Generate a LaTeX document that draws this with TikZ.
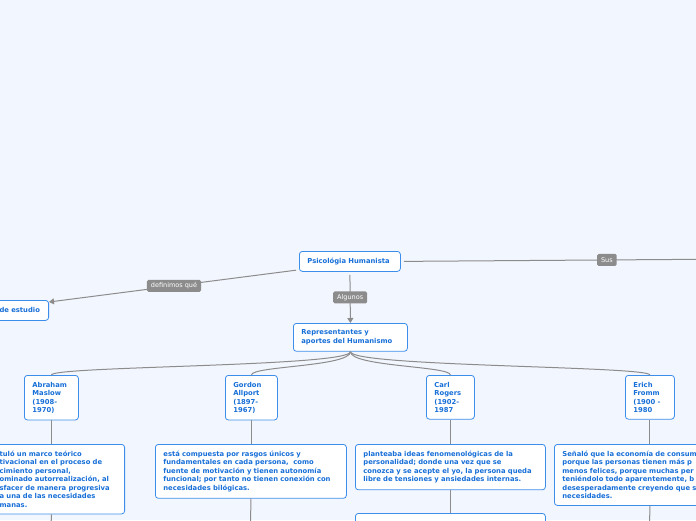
\documentclass[tikz,border=0pt]{standalone}
\usepackage{fontspec}
\setmainfont{DejaVu Sans}
\usetikzlibrary{arrows.meta}
\definecolor{fondo}{HTML}{F2F6FE}
\definecolor{azulborde}{HTML}{3D8EEA}
\definecolor{azultexto}{HTML}{176FD8}
\definecolor{gris}{HTML}{8C8C8C}

\begin{document}
\begin{tikzpicture}[x=1pt, y=-1pt,
    caja/.style={draw=azulborde, fill=white, line width=0.8pt, rounded corners=3pt, text=azultexto,
        font=\bfseries\fontsize{6.8}{8.5}\selectfont, align=left, inner xsep=8pt, inner ysep=6.5pt, anchor=north west},
    rama/.style={draw=gris, line width=1pt},
    flecha/.style={rama, -{Triangle[length=5pt, width=6pt]}, shorten <=3pt},
    etiqueta/.style={fill=gris, text=white, rounded corners=1.5pt, inner xsep=4pt, inner ysep=0pt,
        minimum height=12pt, font=\fontsize{6.5}{7}\selectfont}]
    \useasboundingbox (0,0) rectangle (696,520);
    \fill[fondo] (0,0) rectangle (696,520);
    \clip (0,0) rectangle (696,520);

    \node[caja, text width=85pt, minimum height=20pt] (psico) at (299,251) {Psicológia Humanista};
    \node[caja, text width=41pt, minimum height=20pt, anchor=north east] (estudio) at (49,300) {de estudio};
    \node[caja, text width=98pt] (repre) at (293,323) {Representantes y\\aportes del Humanismo};

    \node[caja, text width=38pt] (maslow) at (24,375) {Abraham\\Maslow\\(1908-\\1970)};
    \node[caja, text width=36pt] (allport) at (225,375) {Gordon\\Allport\\(1897-\\1967)};
    \node[caja, text width=32pt] (rogers) at (426,375) {Carl\\Rogers\\(1902-\\1987};
    \node[caja, text width=33pt] (fromm) at (625,375) {Erich\\Fromm\\(1900 -\\1980};

    \node[caja, text width=117pt, anchor=north east] (maslowtexto) at (125,444) {tuló un marco teórico\\tivacional en el proceso de\\cimiento personal,\\ominado autorrealización, al\\sfacer de manera progresiva\\a una de las necesidades\\manas.};
    \node[caja, text width=175pt] (allporttexto) at (155,444) {está compuesta por rasgos únicos y\\fundamentales en cada persona,~ como\\fuente de motivación y tienen autonomía\\funcional; por tanto no tienen conexión con\\necesidades bilógicas.};
    \node[caja, text width=174pt] (rogerstexto) at (355,444) {planteaba ideas fenomenológicas de la\\personalidad; donde una vez que se\\conozca y se acepte el yo, la persona queda\\libre de tensiones y ansiedades internas.};
    \node[caja, text width=160pt] (frommtexto) at (554,444) {Señaló que la economía de consum\\porque las personas tienen más p\\menos felices, porque muchas per\\teniéndolo todo aparentemente, b\\desesperadamente creyendo que s\\necesidades.};
    \node[caja, text width=174pt, minimum height=30pt] (rogerssigue) at (355,513) {};

    \coordinate (susfin) at (813,258.5);
    \coordinate (maslowfin) at (51,530);
    \coordinate (allportfin) at (250.5,530);
    \coordinate (frommfin) at (649.5,530);

    \draw[flecha] ([yshift=2pt]psico.south west) -- node[etiqueta] {definimos qué} ([yshift=-2pt]estudio.north east);
    \draw[flecha] (psico.south) -- node[etiqueta] {Algunos} (repre.north);
    \draw[rama, shorten <=3pt] (psico.east) -- node[etiqueta] {Sus} (susfin);

    \foreach \hijo in {maslow, allport, rogers, fromm}
        \draw[rama] (repre.south) .. controls +(0,15) and +(0,-9) .. (\hijo.north);

    \foreach \hijo in {maslow, allport, rogers, fromm}
        \draw[rama] (\hijo.south) -- (\hijo.south |- \hijo texto.north);

    \draw[rama] (maslowtexto.south -| maslow.south) -- (maslowfin);
    \draw[rama] (allporttexto.south) -- (allportfin);
    \draw[rama] (rogerstexto.south) -- (rogerssigue.north);
    \draw[rama] (frommtexto.south -| fromm.south) -- (frommfin);
\end{tikzpicture}
\end{document}
